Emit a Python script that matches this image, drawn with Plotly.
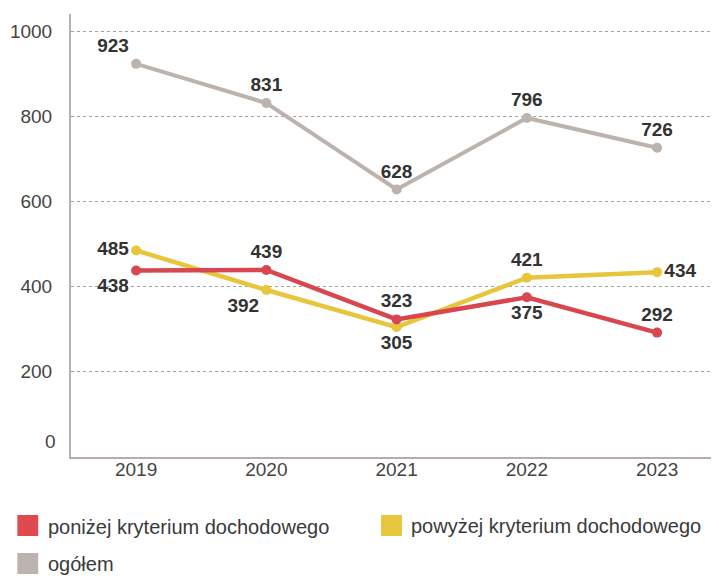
import plotly.graph_objects as go

# ---- data ----
years = ["2019", "2020", "2021", "2022", "2023"]
ponizej = [438, 439, 323, 375, 292]
powyzej = [485, 392, 305, 421, 434]
ogolem = [923, 831, 628, 796, 726]
series_names = ["poniżej kryterium dochodowego", "powyżej kryterium dochodowego", "ogółem"]
y_ticks = [0, 200, 400, 600, 800, 1000]

# ---- style ----
RED = "#d8474f"
YELLOW = "#e7c53d"
GRAY = "#bcb3ae"
LEGEND_RED = "#e04a4e"
TXT = "#333333"
FONT = "Liberation Sans, Arial, sans-serif"

pos_pon = ["bottom left", "top center", "top center", "bottom center", "top center"]
pos_pow = ["middle left", "bottom left", "bottom center", "top center", "middle right"]
pos_ogo = ["top left", "top center", "top center", "top center", "top center"]

OFF = 8  # browser body margin
W, H = 719 - OFF, 576 - OFF
# plot area in reference pixel coordinates
L_REF, R_REF, T_REF, B_REF = 67, 717, 14, 457
ML, MT = L_REF - OFF, T_REF - OFF
MR = W - (R_REF - OFF)
MB = H - (B_REF - OFF)
PW, PH = R_REF - L_REF, B_REF - T_REF


def px(x):
    return (x - L_REF) / PW


def py(y):
    return (B_REF - y) / PH


fig = go.Figure()

for vals, col, pos, name, lw in [
    (ogolem, GRAY, pos_ogo, series_names[2], 4),
    (powyzej, YELLOW, pos_pow, series_names[1], 4.5),
    (ponizej, RED, pos_pon, series_names[0], 4.5),
]:
    fig.add_trace(go.Scatter(
        x=years, y=vals, name=name, mode="lines+markers+text",
        line=dict(color=col, width=lw),
        marker=dict(color=col, size=10),
        text=[str(v) for v in vals], textposition=pos,
        textfont=dict(family=FONT, size=19, color=TXT, weight="bold"),
        showlegend=False, cliponaxis=False,
    ))

# manual legend (reference pixel coords)
legend_items = [
    (series_names[0], LEGEND_RED, 13, 515, 42, 527),
    (series_names[1], YELLOW, 379, 515, 407, 526),
    (series_names[2], GRAY, 13, 553, 42, 564),
]
shapes = []
annotations = []
for name, col, sx, sy, tx, ty in legend_items:
    shapes.append(dict(type="rect", xref="paper", yref="paper",
                       x0=px(sx), x1=px(sx + 21), y0=py(sy + 21), y1=py(sy),
                       fillcolor=col, line=dict(width=0), layer="above"))
    annotations.append(dict(text=name, xref="paper", yref="paper",
                            x=px(tx), y=py(ty), xanchor="left", yanchor="middle",
                            showarrow=False,
                            font=dict(family=FONT, size=20, color="#3a3a3a")))

# "0" label drawn slightly above the axis line, as in the reference
annotations.append(dict(text=str(y_ticks[0]), xref="paper", yref="y", x=0, y=y_ticks[0],
                        xanchor="right", yanchor="middle", xshift=-13, yshift=16,
                        showarrow=False, font=dict(family=FONT, size=19, color="#444444")))

fig.update_layout(
    width=W, height=H,
    margin=dict(l=ML, r=MR, t=MT, b=MB, pad=0),
    paper_bgcolor="white", plot_bgcolor="white",
    font=dict(family=FONT, size=19, color="#444444"),
    shapes=shapes, annotations=annotations,
    showlegend=False,
)
fig.update_xaxes(
    type="category", range=[-0.5, 4.46],
    showgrid=False, showline=True, linecolor="#b9abab", linewidth=2,
    ticks="", ticklabelstandoff=-6,
    tickfont=dict(family=FONT, size=19, color="#444444"),
    zeroline=False,
)
fig.update_yaxes(
    range=[0, 1040], tickvals=y_ticks[1:],
    showgrid=True, gridcolor="#a0a0a0", griddash="dot", gridwidth=1,
    showline=True, linecolor="#b3b3b3", linewidth=2,
    ticks="", ticklabelstandoff=13,
    tickfont=dict(family=FONT, size=19, color="#444444"),
    zeroline=False,
)

fig.write_html("out.html")
